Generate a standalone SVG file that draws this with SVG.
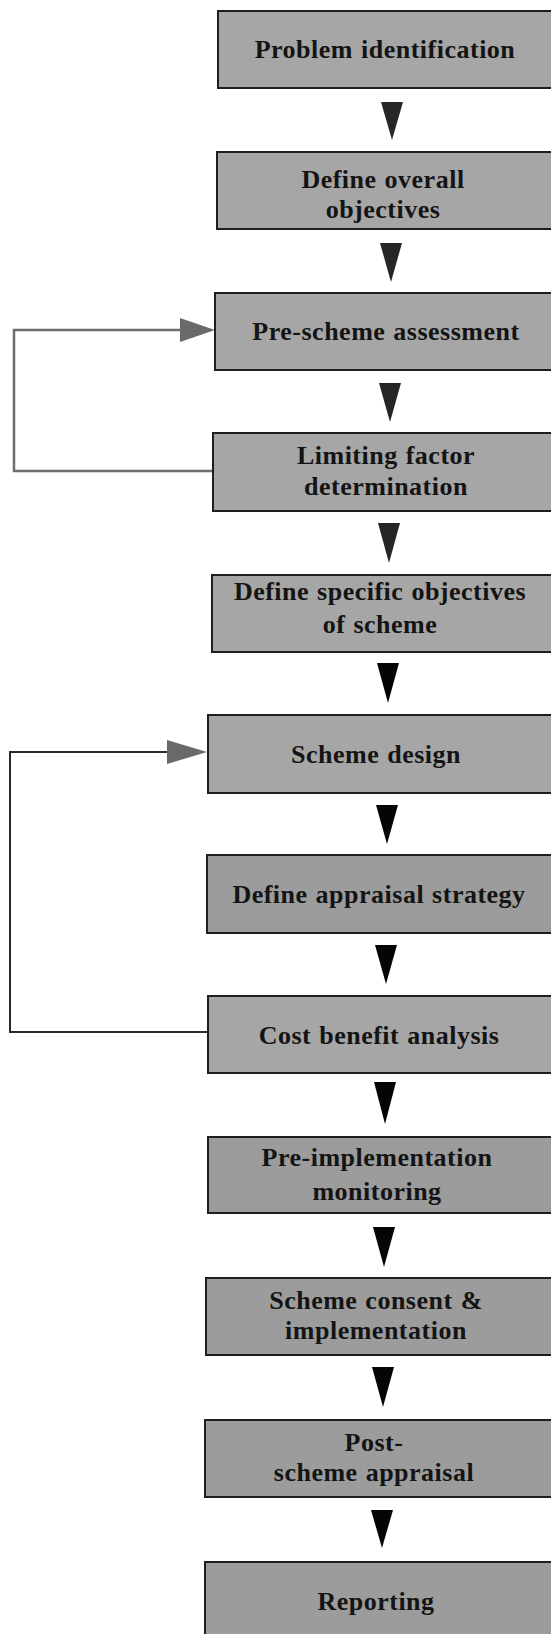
<svg xmlns="http://www.w3.org/2000/svg" width="551" height="1634" viewBox="0 0 551 1634">
<style>
.box{fill:#a6a6a6;stroke:#1e1e1e;stroke-width:2}
.box.d{fill:#9c9c9c}
.t{font-family:"Liberation Serif","Times New Roman",serif;font-weight:bold;font-size:26px;letter-spacing:0.5px;word-spacing:1px;fill:#141414;text-anchor:middle}
.ar{fill:#262626}
.ar.k{fill:#050505}
.loop1{fill:none;stroke:#6e6e6e;stroke-width:2.5}
.loop2{fill:none;stroke:#2a2a2a;stroke-width:2}
.lh{fill:#6a6a6a}
</style>
<rect width="551" height="1634" fill="#ffffff"/>

<g id="connectors">
  <polygon class="ar" points="381,102 403,102 392,140"/>
  <polygon class="ar" points="380,243 402,243 391,282"/>
  <polygon class="ar" points="379,383 401,383 390,422"/>
  <polygon class="ar" points="378,523 400,523 389,563"/>
  <polygon class="ar k" points="377,663 399,663 388,703"/>
  <polygon class="ar k" points="376,805 398,805 387,844"/>
  <polygon class="ar k" points="375,945 397,945 386,984"/>
  <polygon class="ar k" points="374,1082 396,1082 385,1124"/>
  <polygon class="ar k" points="373,1227 395,1227 384,1267"/>
  <polygon class="ar k" points="372,1367 394,1367 383,1407"/>
  <polygon class="ar k" points="371,1510 393,1510 382,1548"/>
  <polyline class="loop1" points="213,471 14,471 14,330 182,330"/>
  <polygon class="lh" points="180,318 215,330 180,342"/>
  <polyline class="loop2" points="208,1032 10,1032 10,752 170,752"/>
  <polygon class="lh" points="167,740 207,752 167,764"/>
</g>

<g id="n1"><rect class="box" x="218" y="11" width="340" height="77"/>
<text class="t" x="385" y="58">Problem identification</text></g>

<g id="n2"><rect class="box" x="217" y="152" width="340" height="77"/>
<text class="t" x="383" y="188">Define overall</text>
<text class="t" x="383" y="218">objectives</text></g>

<g id="n3"><rect class="box" x="215" y="293" width="342" height="77"/>
<text class="t" x="386" y="340">Pre-scheme assessment</text></g>

<g id="n4"><rect class="box" x="213" y="433" width="344" height="78"/>
<text class="t" x="386" y="464">Limiting factor</text>
<text class="t" x="386" y="495">determination</text></g>

<g id="n5"><rect class="box" x="212" y="575" width="345" height="77"/>
<text class="t" x="380" y="600">Define specific objectives</text>
<text class="t" x="380" y="633">of scheme</text></g>

<g id="n6"><rect class="box" x="208" y="715" width="349" height="78"/>
<text class="t" x="376" y="763">Scheme design</text></g>

<g id="n7"><rect class="box d" x="207" y="855" width="350" height="78"/>
<text class="t" x="379" y="903">Define appraisal strategy</text></g>

<g id="n8"><rect class="box" x="208" y="996" width="349" height="77"/>
<text class="t" x="379" y="1044">Cost benefit analysis</text></g>

<g id="n9"><rect class="box d" x="208" y="1137" width="349" height="76"/>
<text class="t" x="377" y="1166">Pre-implementation</text>
<text class="t" x="377" y="1200">monitoring</text></g>

<g id="n10"><rect class="box d" x="206" y="1278" width="351" height="77"/>
<text class="t" x="376" y="1309">Scheme consent &amp;</text>
<text class="t" x="376" y="1339">implementation</text></g>

<g id="n11"><rect class="box d" x="205" y="1420" width="352" height="77"/>
<text class="t" x="374" y="1451">Post-</text>
<text class="t" x="374" y="1481">scheme appraisal</text></g>

<g id="n12"><rect class="box d" x="205" y="1562" width="352" height="80"/>
<text class="t" x="376" y="1610">Reporting</text></g>
</svg>
